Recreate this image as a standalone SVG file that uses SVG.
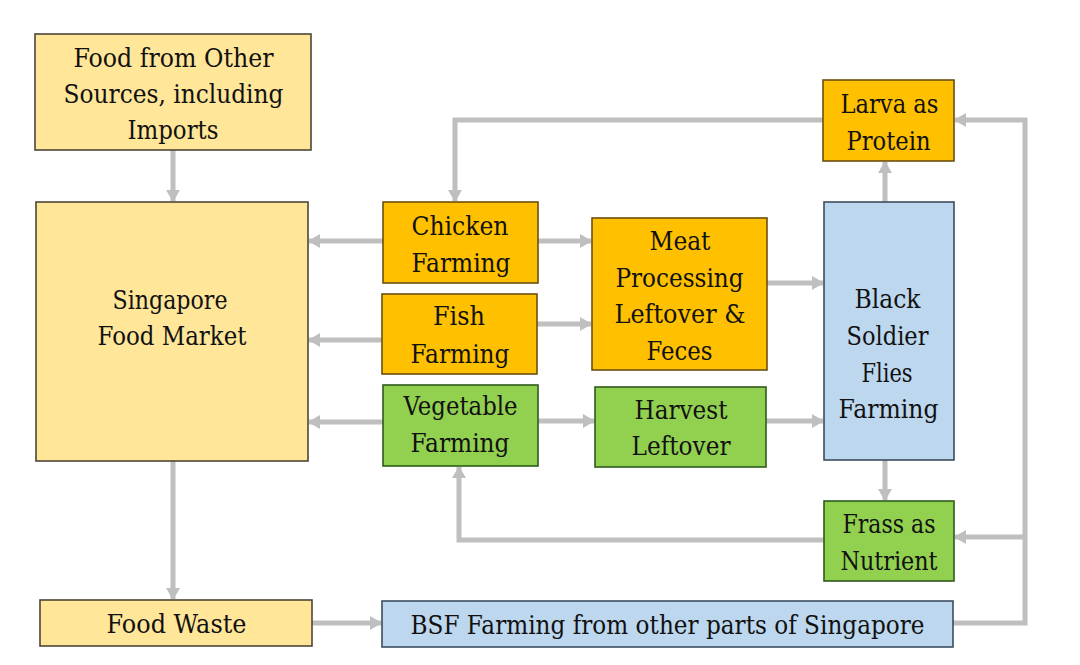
<svg xmlns="http://www.w3.org/2000/svg" width="1080" height="665" viewBox="0 0 1080 665">
<style>
.box{stroke-width:1.6}
.y{fill:#FFE699;stroke:#4d4636}
.o{fill:#FFC000;stroke:#6b4f10}
.g{fill:#92D050;stroke:#2f5a1a}
.b{fill:#BDD7EE;stroke:#3d4d5e}
text{font-family:"DejaVu Serif",serif;font-size:26px;fill:#111;text-anchor:middle}
.c{fill:none;stroke:#BFBFBF;stroke-width:5}
</style>
<defs>
<marker id="ah" markerUnits="userSpaceOnUse" markerWidth="12" markerHeight="14" refX="11" refY="7" orient="auto">
<path d="M0,0 L12,7 L0,14 z" fill="#BFBFBF"/>
</marker>
</defs>
<rect width="1080" height="665" fill="#fff"/>
<g id="connectors">
<path class="c" d="M173,150 V201" marker-end="url(#ah)"/>
<path class="c" d="M383,241 H309" marker-end="url(#ah)"/>
<path class="c" d="M382,340 H309" marker-end="url(#ah)"/>
<path class="c" d="M383,422 H309" marker-end="url(#ah)"/>
<path class="c" d="M538,241 H591" marker-end="url(#ah)"/>
<path class="c" d="M537,324 H591" marker-end="url(#ah)"/>
<path class="c" d="M767,283 H823" marker-end="url(#ah)"/>
<path class="c" d="M538,421 H594" marker-end="url(#ah)"/>
<path class="c" d="M766,421 H823" marker-end="url(#ah)"/>
<path class="c" d="M885,202 V162" marker-end="url(#ah)"/>
<path class="c" d="M823,120 H455 V201" marker-end="url(#ah)"/>
<path class="c" d="M885,460 V500" marker-end="url(#ah)"/>
<path class="c" d="M824,540 H459 V467" marker-end="url(#ah)"/>
<path class="c" d="M173,461 V599" marker-end="url(#ah)"/>
<path class="c" d="M312,623 H381" marker-end="url(#ah)"/>
<path class="c" d="M953,623 H1025 V120 H955" marker-end="url(#ah)"/>
<path class="c" d="M1025,537 H955" marker-end="url(#ah)"/>
</g>
<g id="food-other">
<rect class="box y" x="35" y="34" width="276" height="116"/>
<text x="173.5" y="67" textLength="200" lengthAdjust="spacingAndGlyphs">Food from Other</text>
<text x="173.5" y="103" textLength="220" lengthAdjust="spacingAndGlyphs">Sources, including</text>
<text x="173" y="139" textLength="91" lengthAdjust="spacingAndGlyphs">Imports</text>
</g>
<g id="market">
<rect class="box y" x="36" y="202" width="272" height="259"/>
<text x="170" y="309" textLength="115" lengthAdjust="spacingAndGlyphs">Singapore</text>
<text x="172" y="345" textLength="149" lengthAdjust="spacingAndGlyphs">Food Market</text>
</g>
<g id="chicken">
<rect class="box o" x="383" y="202" width="155" height="81"/>
<text x="460" y="235" textLength="97" lengthAdjust="spacingAndGlyphs">Chicken</text>
<text x="461" y="272" textLength="99" lengthAdjust="spacingAndGlyphs">Farming</text>
</g>
<g id="fish">
<rect class="box o" x="382" y="294" width="155" height="80"/>
<text x="459" y="325" textLength="52" lengthAdjust="spacingAndGlyphs">Fish</text>
<text x="460" y="363" textLength="99" lengthAdjust="spacingAndGlyphs">Farming</text>
</g>
<g id="vegetable">
<rect class="box g" x="383" y="385" width="155" height="81"/>
<text x="460.5" y="415" textLength="114" lengthAdjust="spacingAndGlyphs">Vegetable</text>
<text x="460" y="452" textLength="99" lengthAdjust="spacingAndGlyphs">Farming</text>
</g>
<g id="meat">
<rect class="box o" x="592" y="218" width="175" height="152"/>
<text x="680" y="250" textLength="61" lengthAdjust="spacingAndGlyphs">Meat</text>
<text x="679.5" y="287" textLength="128" lengthAdjust="spacingAndGlyphs">Processing</text>
<text x="680" y="323" textLength="131" lengthAdjust="spacingAndGlyphs">Leftover &amp;</text>
<text x="679.5" y="360" textLength="66" lengthAdjust="spacingAndGlyphs">Feces</text>
</g>
<g id="harvest">
<rect class="box g" x="595" y="387" width="171" height="80"/>
<text x="681" y="419" textLength="93" lengthAdjust="spacingAndGlyphs">Harvest</text>
<text x="681" y="455" textLength="99" lengthAdjust="spacingAndGlyphs">Leftover</text>
</g>
<g id="bsf">
<rect class="box b" x="824" y="202" width="130" height="258"/>
<text x="887.5" y="308" textLength="66" lengthAdjust="spacingAndGlyphs">Black</text>
<text x="887.5" y="345" textLength="82" lengthAdjust="spacingAndGlyphs">Soldier</text>
<text x="887" y="382" textLength="51" lengthAdjust="spacingAndGlyphs">Flies</text>
<text x="888.5" y="418" textLength="100" lengthAdjust="spacingAndGlyphs">Farming</text>
</g>
<g id="larva">
<rect class="box o" x="823" y="80" width="131" height="81"/>
<text x="889.5" y="113" textLength="98" lengthAdjust="spacingAndGlyphs">Larva as</text>
<text x="888.5" y="150" textLength="84" lengthAdjust="spacingAndGlyphs">Protein</text>
</g>
<g id="frass">
<rect class="box g" x="824" y="501" width="130" height="80"/>
<text x="889" y="533" textLength="93" lengthAdjust="spacingAndGlyphs">Frass as</text>
<text x="889" y="570" textLength="97" lengthAdjust="spacingAndGlyphs">Nutrient</text>
</g>
<g id="food-waste">
<rect class="box y" x="40" y="600" width="272" height="46"/>
<text x="176.5" y="633" textLength="140" lengthAdjust="spacingAndGlyphs">Food Waste</text>
</g>
<g id="bsf-other">
<rect class="box b" x="382" y="601" width="571" height="46"/>
<text x="667.5" y="634" textLength="514" lengthAdjust="spacingAndGlyphs">BSF Farming from other parts of Singapore</text>
</g>
</svg>
